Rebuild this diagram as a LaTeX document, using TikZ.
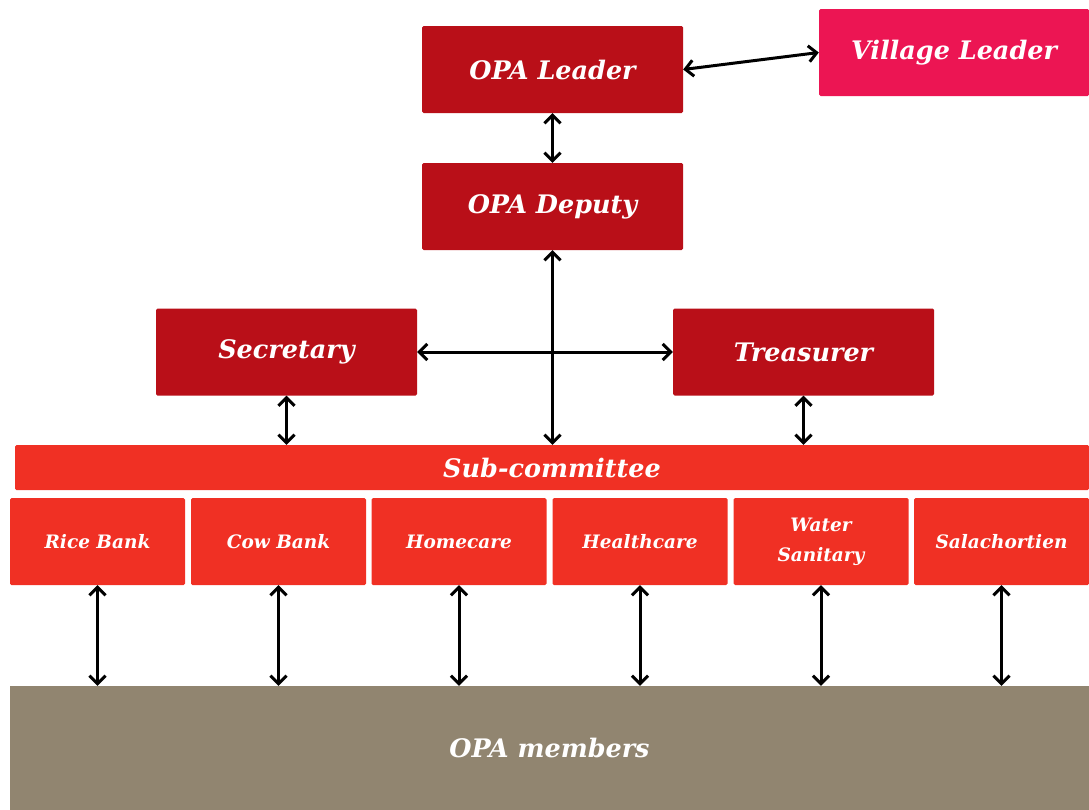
\documentclass[tikz,border=0pt]{standalone}
\usepackage{fontspec}
\setmainfont{DejaVu Serif}
\usetikzlibrary{arrows.meta}
\definecolor{darkred}{HTML}{B90F18}
\definecolor{villagepink}{HTML}{EC1553}
\definecolor{subred}{HTML}{F03024}
\definecolor{memberbrown}{HTML}{918570}

\tikzset{
    box/.style={fill=#1, text=white, rounded corners=1.5pt, inner sep=0pt, align=center,
        font=\fontsize{25.5}{30}\selectfont\bfseries\itshape},
    topbox/.style={box=darkred, minimum width=261pt, minimum height=87pt},
    subbox/.style={box=subred, minimum width=175pt, minimum height=87pt,
        font=\fontsize{18.5}{30}\selectfont\bfseries\itshape},
    link/.style={{Straight Barb[length=8pt,width=16pt]}-{Straight Barb[length=8pt,width=16pt]}, line width=3pt}
}

\begin{document}
\begin{tikzpicture}[x=1pt, y=-1pt]
    \useasboundingbox (0,0) rectangle (1089,809);

    \node[topbox] (leader) at (552.5,69.5) {OPA Leader};
    \node[box=villagepink, minimum width=270pt, minimum height=87pt] (village) at (954,52.5) {Village Leader};
    \node[topbox] (deputy) at (552.5,206.5) {OPA Deputy};
    \node[topbox] (secretary) at (286.5,352) {Secretary};
    \node[topbox] (treasurer) at (803.5,352) {Treasurer};

    \node[box=subred, minimum width=1074pt, minimum height=45pt] (subcom) at (552,467.5) {Sub-committee};

    \node[subbox] (rice) at (97.5,541.5) {Rice Bank};
    \node[subbox] (cow) at (278.5,541.5) {Cow Bank};
    \node[subbox] (home) at (459,541.5) {Homecare};
    \node[subbox] (health) at (640,541.5) {Healthcare};
    \node[subbox] (water) at (821,541.5) {Water\\Sanitary};
    \node[subbox] (sala) at (1001.5,541.5) {Salachortien};

    \node[box=memberbrown, rounded corners=0pt, minimum width=1079pt, minimum height=124pt] (members) at (549.5,748) {OPA members};

    \draw[link] (leader.east) -- (village.west);
    \draw[link] (leader.south) -- (deputy.north);
    \draw[link] (deputy.south) -- (deputy.south |- subcom.north);
    \draw[link] (secretary.east) -- (treasurer.west);
    \draw[link] (secretary.south) -- (secretary.south |- subcom.north);
    \draw[link] (treasurer.south) -- (treasurer.south |- subcom.north);

    \draw[link] (rice.south) -- (rice.south |- members.north);
    \draw[link] (cow.south) -- (cow.south |- members.north);
    \draw[link] (home.south) -- (home.south |- members.north);
    \draw[link] (health.south) -- (health.south |- members.north);
    \draw[link] (water.south) -- (water.south |- members.north);
    \draw[link] (sala.south) -- (sala.south |- members.north);
\end{tikzpicture}
\end{document}
